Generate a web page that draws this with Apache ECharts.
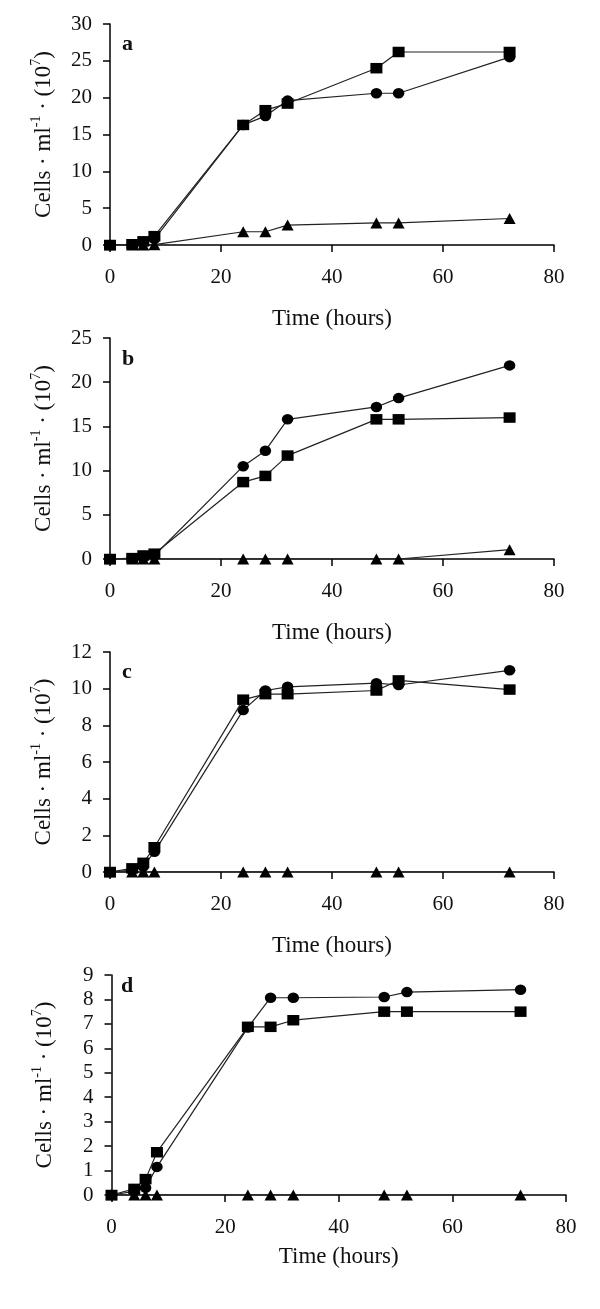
<!DOCTYPE html>
<html>
<head>
<meta charset="utf-8">
<script src="https://cdn.jsdelivr.net/npm/echarts@6/dist/echarts.min.js"></script>
<style>
html,body{margin:0;padding:0;background:#fff;}
#chart{width:600px;height:1309px;}
</style>
</head>
<body>
<div id="chart"></div>
<script>
// Sampling times (hours)
const hours = [0, 4, 6, 8, 24, 28, 32, 48, 52, 72];

// Panel a
const aSquares   = [0, 0.1, 0.5, 1.2, 16.3, 18.3, 19.2, 24.0, 26.2, 26.2];
const aCircles   = [0, 0.05, 0.3, 0.8, 16.3, 17.5, 19.6, 20.6, 20.6, 25.5];
const aTriangles = [0, 0, 0, 0.05, 1.8, 1.8, 2.7, 3.0, 3.0, 3.6];

// Panel b
const bSquares   = [0, 0.1, 0.4, 0.6, 8.7, 9.4, 11.7, 15.8, 15.8, 16.0];
const bCircles   = [0, 0.05, 0.2, 0.4, 10.5, 12.25, 15.8, 17.2, 18.2, 21.9];
const bTriangles = [0, 0, 0, 0, 0, 0, 0, 0, 0, 1.05];

// Panel c
const cSquares   = [0, 0.2, 0.5, 1.35, 9.4, 9.7, 9.7, 9.9, 10.45, 9.95];
const cCircles   = [0, 0.1, 0.3, 1.1, 8.83, 9.9, 10.1, 10.3, 10.2, 11.0];
const cTriangles = [0, 0, 0, 0, 0, 0, 0, 0, 0, 0];

// Panel d
const dSquares   = [0, 0.25, 0.65, 1.75, 6.88, 6.88, 7.15, 7.5, 7.5, 7.5];
const dCircles   = [0, 0.15, 0.3, 1.15, 6.85, 8.07, 8.07, 8.1, 8.3, 8.4];
const dTriangles = [0, 0, 0, 0, 0, 0, 0, 0, 0, 0];

// Axis settings
const xTicks = [0, 20, 40, 60, 80];
const yMax = [30, 25, 12, 9];
const yStep = [5, 5, 2, 1];
const panelLetters = ['a', 'b', 'c', 'd'];
const xTitle = 'Time (hours)';

const panels = [
  [aSquares, aCircles, aTriangles],
  [bSquares, bCircles, bTriangles],
  [cSquares, cCircles, cTriangles],
  [dSquares, dCircles, dTriangles]
];

const FONT = "'Liberation Serif', 'Times New Roman', serif";
const TXT = '#111';

const grids = [
  {left: 110, width: 444, top: 24, height: 221},
  {left: 110, width: 444, top: 338, height: 221},
  {left: 110, width: 444, top: 652, height: 220},
  {left: 111.5, width: 454.5, top: 975, height: 220}
];
const xNameGap = [62, 62, 62, 50];

const chart = echarts.init(document.getElementById('chart'), null, {renderer: 'canvas'});

const xAxes = grids.map((g, i) => ({
  type: 'value', gridIndex: i, min: xTicks[0], max: xTicks[xTicks.length - 1], interval: xTicks[1] - xTicks[0],
  name: xTitle, nameLocation: 'middle', nameGap: xNameGap[i],
  nameTextStyle: {fontFamily: FONT, fontSize: 23, color: TXT},
  axisLine: {show: true, onZero: false, lineStyle: {color: '#000', width: 1.5}},
  axisTick: {show: true, inside: false, length: 7, lineStyle: {color: '#000', width: 1.5}},
  axisLabel: {fontFamily: FONT, fontSize: 21, color: TXT, margin: 22},
  splitLine: {show: false}
}));

const yAxes = grids.map((g, i) => ({
  type: 'value', gridIndex: i, min: 0, max: yMax[i], interval: yStep[i],
  name: '{n|Cells · ml}{s|-1}{n| · (10}{s|7}{n|)}',
  nameLocation: 'middle', nameGap: 55, nameRotate: 90,
  nameTextStyle: {
    fontFamily: FONT, color: TXT,
    rich: {
      n: {fontFamily: FONT, fontSize: 23, color: TXT, lineHeight: 26, verticalAlign: 'bottom'},
      s: {fontFamily: FONT, fontSize: 14, color: TXT, lineHeight: 16, verticalAlign: 'top'}
    }
  },
  axisLine: {show: true, onZero: false, lineStyle: {color: '#000', width: 1.5}},
  axisTick: {show: true, inside: false, length: 7, lineStyle: {color: '#000', width: 1.5}},
  axisLabel: {fontFamily: FONT, fontSize: 21, color: TXT, margin: 18},
  splitLine: {show: false}
}));

const symbols = [
  {symbol: 'rect', size: [12, 10.5]},
  {symbol: 'circle', size: [11.5, 10.5]},
  {symbol: 'triangle', size: [12, 11]}
];

const series = [];
panels.forEach((sets, p) => {
  sets.forEach((vals, k) => {
    series.push({
      type: 'line', xAxisIndex: p, yAxisIndex: p,
      data: hours.map((h, j) => [h, vals[j]]),
      symbol: symbols[k].symbol, symbolSize: symbols[k].size,
      showAllSymbol: true,
      lineStyle: {color: '#222', width: 1.2},
      itemStyle: {color: '#000', borderWidth: 0},
      z: 3 - k + 2,
      animation: false,
      silent: true
    });
  });
});

const titles = [
  {left: 122, top: 33},
  {left: 122, top: 348},
  {left: 122, top: 661},
  {left: 121, top: 975}
].map((pos, i) => ({
  text: panelLetters[i], left: pos.left, top: pos.top, padding: 0,
  textStyle: {fontFamily: FONT, fontSize: 22, fontWeight: 'bold', color: TXT}
}));

chart.setOption({
  backgroundColor: '#fff',
  animation: false,
  title: titles,
  grid: grids,
  xAxis: xAxes,
  yAxis: yAxes,
  series: series
});
</script>
</body>
</html>
